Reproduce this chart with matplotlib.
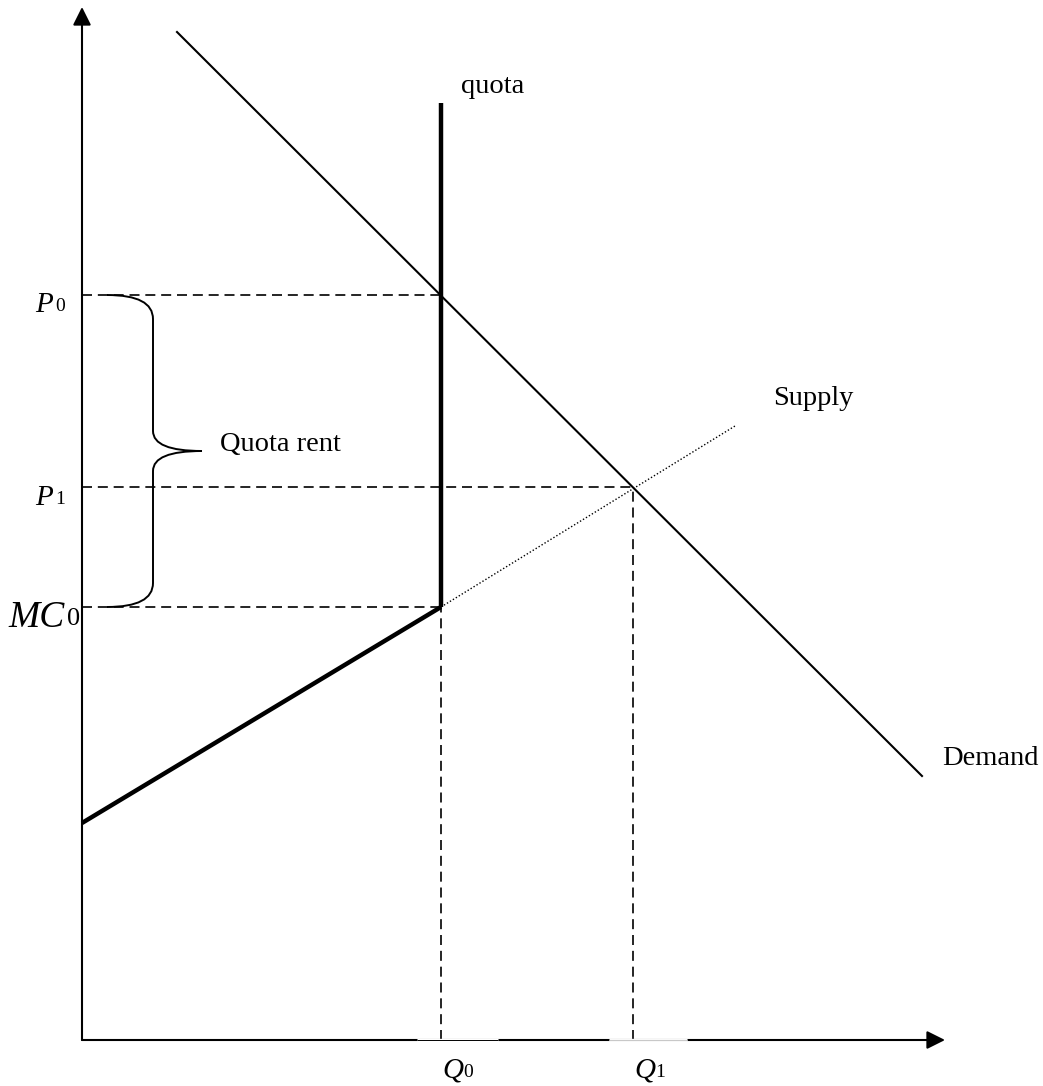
import matplotlib
matplotlib.use("Agg")
import matplotlib.pyplot as plt
from matplotlib.path import Path
from matplotlib.patches import PathPatch, FancyArrowPatch

# ---- data (chart units; origin at the axes corner) ----
P0, P1, MC0 = 745, 553, 433
Q0, Q1 = 359, 551
demand_x = [95, 840]
demand_y = [1008, 264]
supply_x = [0, Q0]          # effective (thick) supply under quota
supply_y = [217, MC0]
supply_ext_x = [Q0, 653]    # unconstrained supply (dotted)
supply_ext_y = [MC0, 614]
quota_top = 937
y_axis_top = 1033
x_axis_right = 863

plt.rcParams['font.family'] = ['Liberation Serif', 'DejaVu Serif']

fig = plt.figure(figsize=(10.43, 10.86), dpi=100)
ax = fig.add_axes([0, 0, 1, 1])
ax.set_xlim(-82, 961)
ax.set_ylim(-46, 1040)
ax.axis('off')

# axes with arrows
arrow = dict(arrowstyle='-|>,head_length=1.1,head_width=0.55', mutation_scale=10,
             lw=1.5, color='black', shrinkA=0, shrinkB=0)
ax.add_patch(FancyArrowPatch((0, 0), (0, y_axis_top), **arrow))
ax.add_patch(FancyArrowPatch((0, 0), (x_axis_right, 0), **arrow))
# lighter gaps in the x axis under the Q labels
ax.plot([Q0 - 24, Q0 + 57], [0, 0], color='white', lw=2.4, solid_capstyle='butt', zorder=3)
ax.plot([Q0 - 24, Q0 + 57], [0, 0], color='black', lw=0.7, solid_capstyle='butt', zorder=3)
ax.plot([Q1 - 24, Q1 + 54], [0, 0], color='white', lw=2.4, solid_capstyle='butt', zorder=3)
ax.plot([Q1 - 24, Q1 + 54], [0, 0], color='#c8c8c8', lw=0.9, solid_capstyle='butt', zorder=3)

# demand
ax.plot(demand_x, demand_y, color='black', lw=1.5)
# supply
ax.plot(supply_x, supply_y, color='black', lw=3.2, solid_capstyle='butt')
ax.plot(supply_ext_x, supply_ext_y, color='black', lw=1.0, linestyle=(0, (1, 1.5)))
# quota
ax.plot([Q0, Q0], [MC0, quota_top], color='black', lw=3.2, solid_capstyle='butt')

# dashed guide lines
dash = dict(color='black', lw=1.2, linestyle=(0, (6, 3.5)))
ax.plot([0, Q0], [P0, P0], **dash)
ax.plot([0, Q1], [P1, P1], **dash)
ax.plot([0, Q0], [MC0, MC0], **dash)
ax.plot([Q0, Q0], [0, MC0], **dash)
ax.plot([Q1, Q1], [0, P1], **dash)

# brace
mid = (P0 + MC0) / 2
xs, xv, xt = 25, 71, 120
r = 24
verts = [(xs, P0), (xv, P0), (xv, P0 - r),
         (xv, mid + 20), (xv, mid), (xt, mid),
         (xv, mid), (xv, mid - 20),
         (xv, MC0 + r), (xv, MC0), (xs, MC0)]
codes = [Path.MOVETO, Path.CURVE3, Path.CURVE3,
         Path.LINETO, Path.CURVE3, Path.CURVE3,
         Path.CURVE3, Path.CURVE3,
         Path.LINETO, Path.CURVE3, Path.CURVE3]
ax.add_patch(PathPatch(Path(verts, codes), fill=False, lw=1.4, color='black'))

# labels
fs = 20.5
ax.text(xt + 18, mid, 'Quota rent', fontsize=fs, va='baseline', ha='left')
ax.text(Q0 + 20, quota_top + 10, 'quota', fontsize=fs, va='baseline', ha='left')
ax.text(691, 635, 'Supply', fontsize=fs, va='baseline', ha='left')
ax.text(860, 275, 'Demand', fontsize=fs, va='baseline', ha='left')

# P / MC labels (italic letter + small upright subscript)
ax.text(-47, P0 - 17, 'P', fontsize=21, style='italic', va='baseline', ha='left')
ax.text(-27, P0 - 16, '0', fontsize=14, va='baseline', ha='left')
ax.text(-47, P1 - 18, 'P', fontsize=21, style='italic', va='baseline', ha='left')
ax.text(-27, P1 - 17, '1', fontsize=14, va='baseline', ha='left')
ax.text(-74, MC0 - 20, 'MC', fontsize=27, style='italic', va='baseline', ha='left')
ax.text(-15, MC0 - 18, '0', fontsize=19, va='baseline', ha='left')

ax.text(Q0 + 1, -37, 'Q', fontsize=21, style='italic', va='baseline', ha='left')
ax.text(Q0 + 22, -37, '0', fontsize=14, va='baseline', ha='left')
ax.text(Q1 + 1, -37, 'Q', fontsize=21, style='italic', va='baseline', ha='left')
ax.text(Q1 + 22, -37, '1', fontsize=14, va='baseline', ha='left')

fig.savefig('out.png', dpi=100)
